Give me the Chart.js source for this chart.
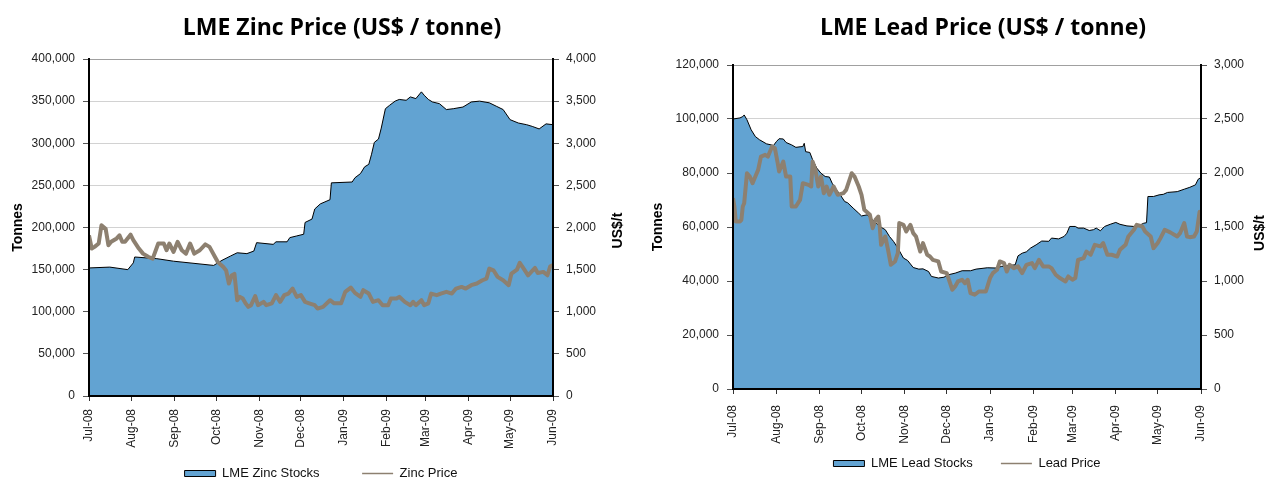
<!DOCTYPE html>
<html>
<head>
<meta charset="utf-8">
<script src="https://cdn.jsdelivr.net/npm/chart.js@4.4.0/dist/chart.umd.min.js"></script>
<style>
html, body { margin: 0; padding: 0; background: #fff; overflow: hidden; width: 1270px; height: 478px; }
#zincBox { position: absolute; left: 0; top: 0; }
#leadBox { position: absolute; left: 620px; top: 0; }
</style>
</head>
<body>
<div id="zincBox"><canvas id="zinc" width="684" height="490"></canvas></div>
<div id="leadBox"><canvas id="lead" width="726" height="480"></canvas></div>
<script>
// x axis: days since 1 Jul 2008, one tick per month
var monthDays = [0, 31, 62, 92, 123, 153, 184, 215, 243, 274, 304, 335];
var monthLabels = ['Jul-08', 'Aug-08', 'Sep-08', 'Oct-08', 'Nov-08', 'Dec-08',
                   'Jan-09', 'Feb-09', 'Mar-09', 'Apr-09', 'May-09', 'Jun-09'];

// LME zinc stocks (tonnes)
var zincStockDays = [0, 15, 28, 32, 33, 49, 61, 90, 96, 102, 107, 114, 119, 121, 133, 135, 143, 145, 150, 155,
    156, 161, 163, 167, 174, 175, 190, 192, 196, 199, 202, 204, 206, 209, 211, 214, 217, 221, 224, 229,
    232, 236, 240, 242, 245, 248, 253, 258, 263, 270, 276, 282, 289, 294, 299, 304, 310, 316, 320, 325, 330, 335];
var zincStocks = [152000, 153000, 150000, 158000, 165000, 163000, 160000, 155000, 161000, 166000, 170000, 169000, 172000, 182000, 180000, 183000, 183000, 188000, 190000, 192000,
    206000, 210000, 222000, 228000, 233000, 253000, 254000, 259000, 264000, 272000, 275000, 287000, 301000, 305000, 318000, 341000, 345000, 350000, 352000, 351000,
    355000, 353000, 361000, 357000, 352000, 349000, 347000, 340000, 341000, 343000, 349000, 350000, 348000, 344000, 340000, 328000, 324000, 322000, 320000, 317000, 323000, 322000];

// zinc price (US$/t)
var zincPriceDays = [0, 2, 4, 7, 9, 12, 14, 16, 20, 22, 24, 26, 30, 32, 36, 39, 43, 46, 50, 54,
    56, 58, 61, 64, 67, 70, 73, 76, 80, 84, 87, 91, 93, 97, 99, 101, 103, 105, 107, 109,
    111, 113, 115, 117, 120, 122, 126, 128, 132, 135, 138, 141, 144, 147, 150, 153, 156, 159, 163, 165,
    169, 174, 177, 182, 185, 189, 192, 196, 198, 202, 205, 209, 212, 216, 218, 222, 224, 228, 232, 234,
    236, 240, 242, 245, 247, 251, 254, 258, 262, 265, 269, 272, 276, 280, 284, 287, 289, 292, 295, 299,
    303, 305, 309, 311, 313, 317, 322, 324, 328, 331, 333, 335];
var zincPrice = [1907, 1750, 1770, 1810, 2026, 1986, 1790, 1830, 1870, 1907, 1830, 1830, 1915, 1850, 1750, 1690, 1650, 1630, 1810, 1810,
    1730, 1810, 1710, 1830, 1730, 1690, 1810, 1690, 1730, 1800, 1770, 1650, 1590, 1530, 1490, 1335, 1430, 1450, 1137, 1177,
    1157, 1100, 1058, 1078, 1185, 1078, 1117, 1078, 1100, 1197, 1117, 1197, 1216, 1275, 1177, 1197, 1117, 1100, 1078, 1038,
    1058, 1137, 1100, 1100, 1236, 1287, 1224, 1177, 1256, 1216, 1117, 1137, 1078, 1078, 1157, 1157, 1177, 1117, 1078, 1117,
    1078, 1137, 1078, 1100, 1216, 1197, 1216, 1236, 1216, 1275, 1295, 1275, 1315, 1335, 1374, 1394, 1512, 1492, 1414, 1374,
    1315, 1453, 1500, 1580, 1532, 1433, 1520, 1461, 1473, 1433, 1540, 1552];

// LME lead stocks (tonnes)
var leadStockDays = [0, 5, 7, 8, 10, 13, 16, 19, 24, 29, 31, 33, 36, 38, 42, 45, 48, 50, 51, 52,
    55, 57, 60, 63, 66, 69, 71, 74, 76, 80, 82, 86, 90, 92, 96, 100, 105, 109, 112, 115,
    118, 122, 125, 129, 133, 136, 140, 142, 147, 151, 154, 159, 164, 170, 174, 182, 189, 192, 202, 204,
    207, 210, 213, 217, 221, 226, 228, 233, 237, 239, 241, 245, 247, 251, 255, 258, 260, 263, 266, 270,
    274, 277, 282, 287, 290, 294, 296, 297, 301, 305, 308, 311, 318, 323, 327, 331, 333, 335];
var leadStocks = [100000, 100400, 100900, 101500, 99700, 96000, 93500, 92300, 90800, 90200, 91600, 92700, 92600, 91300, 90400, 89500, 89700, 89800, 91000, 87900,
    87600, 84900, 81800, 79900, 78700, 78500, 76200, 73800, 72500, 69400, 69000, 67000, 65100, 64100, 64500, 62700, 60200, 59000, 56500, 54600,
    52200, 48500, 47600, 45000, 44400, 44500, 43500, 41700, 41100, 41400, 42300, 42900, 43800, 43800, 44400, 44900, 44800, 45400, 46000, 49300,
    50300, 50800, 52200, 53400, 54800, 54700, 55900, 55600, 56500, 57700, 60200, 60200, 59600, 59600, 58700, 59000, 59600, 58600, 60200, 61000,
    61700, 61000, 60400, 60200, 60400, 61400, 61600, 71300, 71300, 71900, 72100, 72800, 73100, 74000, 74700, 75600, 77700, 78300];

// lead price (US$/t)
var leadPriceDays = [0, 1, 2, 5, 6, 7, 8, 10, 12, 14, 16, 18, 20, 23, 25, 28, 30, 32, 33, 36,
    38, 41, 42, 45, 48, 50, 54, 56, 57, 59, 61, 63, 65, 67, 69, 72, 75, 79, 81, 85,
    87, 90, 92, 94, 98, 100, 102, 104, 105, 106, 109, 111, 113, 116, 118, 119, 122, 124, 127, 129,
    131, 134, 136, 139, 141, 143, 147, 149, 153, 157, 159, 161, 164, 166, 168, 170, 173, 176, 181, 184,
    186, 189, 191, 194, 196, 198, 201, 204, 207, 210, 214, 216, 219, 222, 226, 228, 231, 234, 238, 240,
    243, 245, 247, 251, 253, 256, 259, 263, 265, 268, 271, 275, 277, 281, 283, 287, 289, 293, 295, 299,
    301, 304, 306, 309, 313, 318, 320, 323, 325, 327, 330, 332, 334, 335];
var leadPrice = [1767, 1690, 1551, 1551, 1566, 1690, 1720, 1998, 1967, 1906, 1967, 2029, 2152, 2168, 2152, 2245, 2229, 2091, 2014, 2106,
    1967, 1967, 1690, 1690, 1751, 1906, 1890, 1875, 2106, 2029, 1875, 1967, 1813, 1875, 1798, 1875, 1798, 1813, 1844, 1998,
    1967, 1875, 1798, 1659, 1613, 1489, 1566, 1597, 1505, 1335, 1412, 1289, 1150, 1181, 1258, 1536, 1520, 1458, 1520, 1443,
    1412, 1273, 1351, 1243, 1227, 1196, 1181, 1088, 1073, 919, 950, 996, 1011, 980, 1011, 888, 873, 903, 903, 1027,
    1073, 1104, 1181, 1166, 1088, 1150, 1119, 1135, 1073, 1150, 1166, 1119, 1196, 1135, 1135, 1119, 1058, 1027, 996, 1042,
    1011, 1027, 1196, 1212, 1273, 1243, 1335, 1320, 1351, 1243, 1243, 1227, 1289, 1335, 1412, 1474, 1520, 1505, 1458, 1412,
    1304, 1351, 1397, 1474, 1450, 1412, 1443, 1536, 1412, 1406, 1412, 1458, 1640, 1600];

var stockBlue = '#62a3d2';
var priceGrey = '#8d8070';
var tickFont = { family: '"Liberation Sans", Arial, sans-serif', size: 12 };

function pairs(days, values) {
    return days.map(function (d, i) { return { x: d, y: values[i] }; });
}

// right-hand axis title reads bottom-to-top like the left one
var rightTitle = {
    id: 'rightTitle',
    afterDraw: function (chart, args, opts) {
        var a = chart.chartArea, ctx = chart.ctx;
        ctx.save();
        ctx.font = 'bold 14px "Liberation Sans", Arial, sans-serif';
        ctx.fillStyle = '#000';
        ctx.textAlign = 'center';
        ctx.textBaseline = 'middle';
        ctx.translate(a.right + opts.offset, (a.top + a.bottom) / 2 + opts.shift);
        ctx.rotate(-Math.PI / 2);
        ctx.fillText(opts.text, 0, 0);
        ctx.restore();
    }
};

// black axis lines on top of the filled area
var axisLines = {
    id: 'axisLines',
    afterDatasetsDraw: function (chart) {
        var a = chart.chartArea, ctx = chart.ctx;
        ctx.save();
        ctx.strokeStyle = '#000';
        ctx.lineWidth = 2;
        ctx.beginPath();
        ctx.moveTo(a.left, a.top);
        ctx.lineTo(a.left, a.bottom);
        ctx.lineTo(a.right, a.bottom);
        ctx.lineTo(a.right, a.top);
        ctx.stroke();
        ctx.restore();
    }
};

function makeChart(id, c) {
    return new Chart(document.getElementById(id), {
        type: 'line',
        data: {
            datasets: [{
                label: c.stockLabel,
                data: pairs(c.stockDays, c.stocks),
                yAxisID: 'y',
                fill: 'origin',
                backgroundColor: stockBlue,
                borderColor: '#000',
                borderWidth: 1,
                pointRadius: 0,
                order: 2
            }, {
                label: c.priceLabel,
                data: pairs(c.priceDays, c.prices),
                yAxisID: 'y1',
                fill: false,
                borderColor: priceGrey,
                borderWidth: 4,
                borderJoinStyle: 'round',
                pointRadius: 0,
                order: 1
            }]
        },
        options: {
            responsive: false,
            animation: false,
            plugins: {
                title: {
                    display: true,
                    text: c.title,
                    color: '#000',
                    font: { family: '"Open Sans", Lato, sans-serif', weight: 'bold', size: 23 },
                    padding: { top: 15, bottom: c.titleBottom }
                },
                legend: {
                    position: 'bottom',
                    fullSize: false,
                    labels: {
                        usePointStyle: true,
                        pointStyleWidth: 31,
                        boxHeight: 6,
                        padding: 10,
                        color: '#111',
                        font: { family: '"Liberation Sans", Arial, sans-serif', size: 13 },
                        sort: function (a, b) { return a.datasetIndex - b.datasetIndex; },
                        generateLabels: function (chart) {
                            var items = Chart.defaults.plugins.legend.labels.generateLabels(chart);
                            items.forEach(function (it) {
                                var ds = chart.data.datasets[it.datasetIndex];
                                it.pointStyle = ds.fill ? 'rect' : 'line';
                                it.lineWidth = ds.fill ? 1 : 1.5;
                                // wider gap after the first entry
                                if (ds.fill) it.text = it.text + c.legendGap;
                            });
                            return items;
                        }
                    }
                },
                tooltip: { enabled: false },
                rightTitle: { text: 'US$/t', offset: c.rightTitleOffset, shift: c.rightTitleShift }
            },
            scales: {
                x: {
                    type: 'linear',
                    min: 0,
                    max: 335,
                    afterBuildTicks: function (s) {
                        s.ticks = monthDays.map(function (d) { return { value: d }; });
                    },
                    afterFit: function (s) { s.height = c.xHeight; },
                    grid: { drawOnChartArea: false, tickLength: 5, tickColor: '#333' },
                    border: { color: '#000', width: 2 },
                    ticks: {
                        autoSkip: false,
                        maxRotation: 90,
                        minRotation: 90,
                        padding: c.xPad,
                        color: '#222',
                        font: tickFont,
                        callback: function (v) { return monthLabels[monthDays.indexOf(v)]; }
                    }
                },
                y: {
                    position: 'left',
                    min: 0,
                    max: c.stockMax,
                    afterFit: function (s) { s.width = c.leftWidth; },
                    grid: {
                        color: function (ctx) { return ctx.tick && ctx.tick.value === c.stockMax ? '#a0a0a0' : '#d2d2d2'; },
                        tickLength: 6,
                        tickColor: '#555'
                    },
                    border: { color: '#000', width: 2 },
                    ticks: {
                        stepSize: c.stockStep,
                        padding: 8,
                        color: '#222',
                        font: tickFont,
                        callback: function (v) { return v.toLocaleString('en-US'); }
                    },
                    title: {
                        display: true,
                        text: 'Tonnes',
                        color: '#000',
                        font: { family: '"Liberation Sans", Arial, sans-serif', weight: 'bold', size: 14 },
                        padding: { top: c.leftTitlePad, bottom: 0 }
                    }
                },
                y1: {
                    position: 'right',
                    min: 0,
                    max: c.priceMax,
                    afterFit: function (s) { s.width = c.rightWidth; },
                    grid: { drawOnChartArea: false, tickLength: 6, tickColor: '#555' },
                    border: { color: '#000', width: 2 },
                    ticks: {
                        stepSize: 500,
                        padding: 7,
                        color: '#222',
                        font: tickFont,
                        callback: function (v) { return v.toLocaleString('en-US'); }
                    }
                }
            }
        },
        plugins: [rightTitle, axisLines]
    });
}

makeChart('zinc', {
    title: 'LME Zinc Price (US$ / tonne)',
    stockLabel: 'LME Zinc Stocks',
    priceLabel: 'Zinc Price',
    stockDays: zincStockDays, stocks: zincStocks,
    priceDays: zincPriceDays, prices: zincPrice,
    stockMax: 400000, stockStep: 50000, priceMax: 4000,
    titleBottom: 16.4, legendGap: '\u00a0\u00a0\u00a0\u00a0\u00a0\u00a0\u00a0\u00a0\u00a0', xHeight: 61, xPad: 8,
    leftWidth: 89, rightWidth: 131, leftTitlePad: 10,
    rightTitleOffset: 65, rightTitleShift: 3
});

makeChart('lead', {
    title: 'LME Lead Price (US$ / tonne)',
    stockLabel: 'LME Lead Stocks',
    priceLabel: 'Lead Price',
    stockDays: leadStockDays, stocks: leadStocks,
    priceDays: leadPriceDays, prices: leadPrice,
    stockMax: 120000, stockStep: 20000, priceMax: 3000,
    titleBottom: 22.4, legendGap: '\u00a0\u00a0\u00a0\u00a0\u00a0', xHeight: 58, xPad: 11,
    leftWidth: 113, rightWidth: 145, leftTitlePad: 30,
    rightTitleOffset: 59, rightTitleShift: 6
});
</script>
</body>
</html>
